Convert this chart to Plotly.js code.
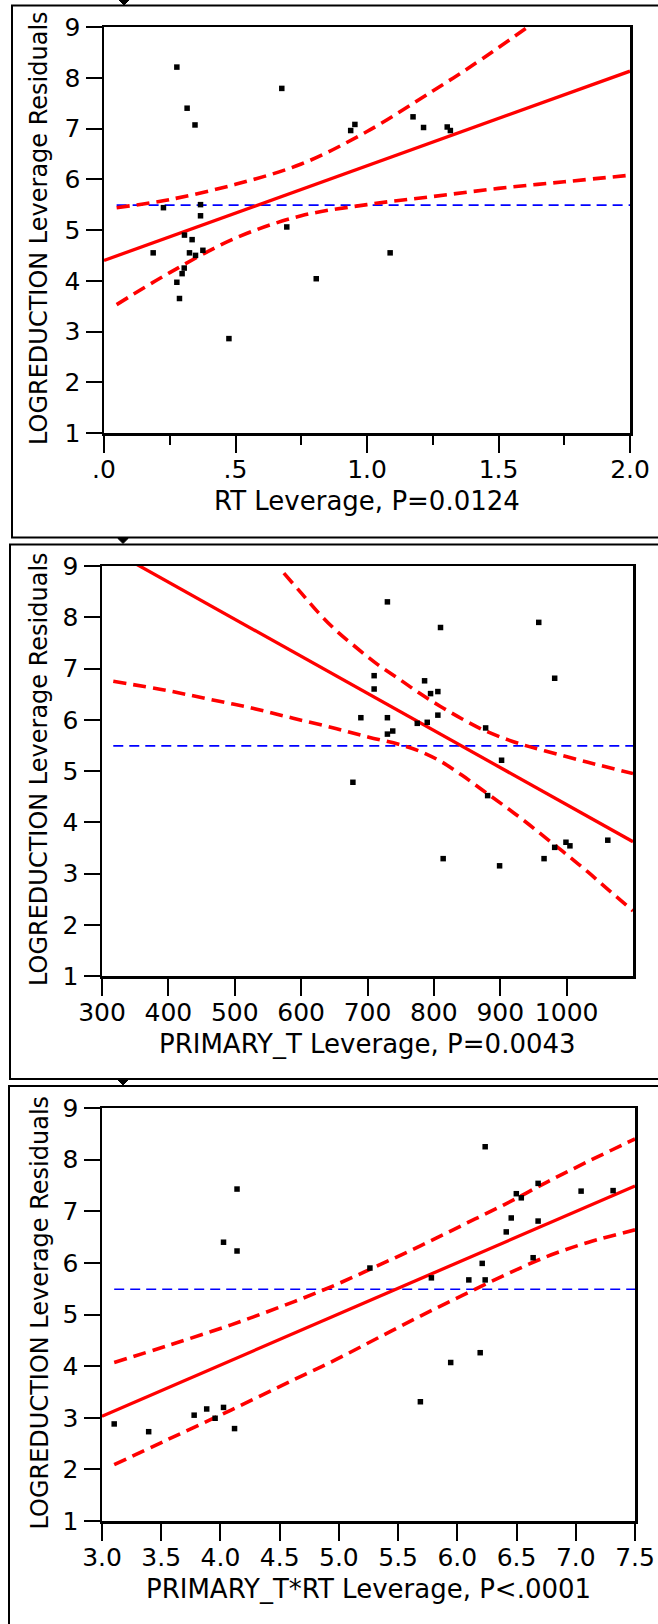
<!DOCTYPE html>
<html><head><meta charset="utf-8">
<script src="https://cdn.plot.ly/plotly-3.0.1.min.js"></script>
<style>html,body{margin:0;padding:0;background:#fff;} #chart{width:658px;height:1624px;}</style>
</head><body><div id="chart"></div>
<script>
// ---------- DATA ----------
const meanLogReduction = 5.49;

// Panel 1: RT Leverage
const rtX = [0.277, 0.316, 0.346, 0.676, 0.938, 0.954, 1.175, 1.215, 1.305, 1.317,
             0.226, 0.367, 0.367, 0.187, 0.306, 0.335, 0.325, 0.348, 0.376, 0.695,
             0.297, 0.305, 0.277, 0.287, 0.475, 0.807, 1.088];
const rtY = [8.21, 7.40, 7.07, 7.79, 6.96, 7.08, 7.23, 7.02, 7.03, 6.96,
             5.44, 5.28, 5.50, 4.55, 4.90, 4.81, 4.55, 4.50, 4.60, 5.06,
             4.14, 4.25, 3.97, 3.65, 2.86, 4.04, 4.55];
const rtFitX = [0.0, 2.0];
const rtFitY = [4.40, 8.13];
const rtUpperX = [0.048, 0.25, 0.5, 0.75, 1.0, 1.25, 1.4, 1.62];
const rtUpperY = [5.44, 5.60, 5.90, 6.30, 6.94, 7.74, 8.24, 9.03];
const rtLowerX = [0.048, 0.25, 0.5, 0.75, 1.0, 1.25, 1.5, 1.75, 2.0];
const rtLowerY = [3.53, 4.16, 4.84, 5.28, 5.50, 5.66, 5.82, 5.95, 6.08];
const rtMeanX = [0.048, 2.0];
const rtTickVals = [0, 0.5, 1.0, 1.5, 2.0];
const rtTickText = ['.0', '.5', '1.0', '1.5', '2.0'];
const rtMinorVals = [0.25, 0.75, 1.25, 1.75];

// Panel 2: PRIMARY_T Leverage
const ptX = [730, 810, 958, 982, 710, 710, 690, 730, 730, 738, 786, 795, 806, 806,
             775, 790, 878, 902, 881, 678, 814, 899, 966, 982, 999, 1005, 1062];
const ptY = [8.30, 7.80, 7.90, 6.81, 6.86, 6.60, 6.04, 6.04, 5.72, 5.78, 6.76, 6.51, 6.55, 6.09,
             5.93, 5.95, 5.84, 5.21, 4.52, 4.78, 3.29, 3.15, 3.29, 3.51, 3.61, 3.54, 3.65];
const ptFitX = [300, 1100];
const ptFitY = [9.41, 3.62];
const ptUpperX = [574, 601, 626, 652, 683, 715, 747, 778, 810, 842, 873, 905, 937, 968, 1032, 1100];
const ptUpperY = [8.86, 8.46, 8.09, 7.75, 7.41, 7.08, 6.80, 6.52, 6.26, 6.02, 5.81, 5.64, 5.50, 5.39, 5.17, 4.95];
const ptLowerX = [317, 398, 462, 525, 588, 652, 702, 747, 778, 810, 842, 873, 905, 937, 968, 1000, 1032, 1063, 1100];
const ptLowerY = [6.75, 6.57, 6.40, 6.23, 6.03, 5.83, 5.66, 5.52, 5.39, 5.19, 4.92, 4.63, 4.33, 4.02, 3.70, 3.37, 3.03, 2.68, 2.27];
const ptMeanX = [317, 1100];
const ptTickVals = [300, 400, 500, 600, 700, 800, 900, 1000];

// Panel 3: PRIMARY_T*RT Leverage
const ptrtX = [3.103, 3.394, 3.778, 3.884, 3.955, 4.026, 4.119, 4.026, 4.140, 4.140,
               5.262, 5.688, 5.781, 5.944, 6.097, 6.193, 6.210, 6.235, 6.235, 6.413,
               6.455, 6.498, 6.540, 6.640, 6.682, 6.682, 7.045, 7.315];
const ptrtY = [2.88, 2.73, 3.05, 3.17, 2.99, 3.20, 2.79, 6.40, 6.23, 7.43,
               5.90, 3.31, 5.71, 4.07, 5.67, 4.26, 5.99, 5.67, 8.25, 6.60,
               6.87, 7.34, 7.26, 6.10, 7.54, 6.81, 7.39, 7.40];
const ptrtFitX = [3.0, 7.5];
const ptrtFitY = [3.03, 7.49];
const ptrtUpperX = [3.103, 3.558, 4.09, 4.623, 4.978, 5.333, 5.688, 6.043, 6.398, 6.753, 7.109, 7.5];
const ptrtUpperY = [4.07, 4.40, 4.80, 5.25, 5.58, 5.95, 6.33, 6.73, 7.13, 7.56, 7.97, 8.40];
const ptrtLowerX = [3.103, 3.558, 4.09, 4.623, 4.978, 5.333, 5.688, 6.043, 6.398, 6.753, 7.109, 7.5];
const ptrtLowerY = [2.09, 2.58, 3.15, 3.74, 4.13, 4.55, 4.97, 5.37, 5.76, 6.12, 6.40, 6.64];
const ptrtMeanX = [3.103, 7.5];
const ptrtTickVals = [3.0, 3.5, 4.0, 4.5, 5.0, 5.5, 6.0, 6.5, 7.0, 7.5];

const yTickVals = [1, 2, 3, 4, 5, 6, 7, 8, 9];
const yTitle = 'LOGREDUCTION Leverage Residuals';
const xTitles = ['RT Leverage, P=0.0124', 'PRIMARY_T Leverage, P=0.0043', 'PRIMARY_T*RT Leverage, P<.0001'];

// ---------- LAYOUT HELPERS ----------
const W = 658, H = 1624;
const px = x => x / W;
const py = y => 1 - y / H;
const FONT = 'DejaVu Sans';
const RED = '#ff0000', BLUE = '#0000ff';

// pixel boxes of the three plot areas: [left, right, top, bottom]
const boxes = [[104, 630, 27, 433], [102, 633, 566, 976], [102, 635, 1108, 1521]];

function panelTraces(n, xs, ys, fx, fy, ux, uy, lx, ly, mx) {
  const xa = n === 1 ? 'x' : 'x' + n, ya = n === 1 ? 'y' : 'y' + n;
  return [
    {x: mx, y: mx.map(() => meanLogReduction), xaxis: xa, yaxis: ya, mode: 'lines',
     line: {color: BLUE, width: 1.6, dash: '10px,6px'}, hoverinfo: 'skip'},
    {x: ux, y: uy, xaxis: xa, yaxis: ya, mode: 'lines',
     line: {color: RED, width: 3.6, dash: '13px,7px', shape: 'spline', smoothing: 1}, hoverinfo: 'skip'},
    {x: lx, y: ly, xaxis: xa, yaxis: ya, mode: 'lines',
     line: {color: RED, width: 3.6, dash: '13px,7px', shape: 'spline', smoothing: 1}, hoverinfo: 'skip'},
    {x: fx, y: fy, xaxis: xa, yaxis: ya, mode: 'lines',
     line: {color: RED, width: 3.3}, hoverinfo: 'skip'},
    {x: xs, y: ys, xaxis: xa, yaxis: ya, mode: 'markers',
     marker: {symbol: 'square', size: 5.5, color: '#000'}, cliponaxis: false}
  ];
}

const data = [].concat(
  panelTraces(1, rtX, rtY, rtFitX, rtFitY, rtUpperX, rtUpperY, rtLowerX, rtLowerY, rtMeanX),
  panelTraces(2, ptX, ptY, ptFitX, ptFitY, ptUpperX, ptUpperY, ptLowerX, ptLowerY, ptMeanX),
  panelTraces(3, ptrtX, ptrtY, ptrtFitX, ptrtFitY, ptrtUpperX, ptrtUpperY, ptrtLowerX, ptrtLowerY, ptrtMeanX)
);

const axisCommon = {
  showline: true, linecolor: '#000', linewidth: 2.5, mirror: true,
  ticks: 'outside', tickwidth: 2, tickcolor: '#000',
  showgrid: false, zeroline: false, fixedrange: true,
  tickfont: {family: FONT, size: 25, color: '#000'}
};

function yAxis(b, anchor) {
  return Object.assign({}, axisCommon, {
    domain: [py(b[3]), py(b[2])], range: [1, 9], anchor: anchor,
    tickmode: 'array', tickvals: yTickVals, ticklen: 16
  });
}

const layout = {
  width: W, height: H, margin: {l: 0, r: 0, t: 0, b: 0},
  paper_bgcolor: '#fff', plot_bgcolor: '#fff', showlegend: false,
  font: {family: FONT, color: '#000'},
  xaxis: Object.assign({}, axisCommon, {
    domain: [px(boxes[0][0]), px(boxes[0][1])], range: [0, 2], anchor: 'y',
    tickmode: 'array', tickvals: rtTickVals, ticktext: rtTickText, ticklen: 17, ticklabelstandoff: -5,
    minor: {tickmode: 'array', tickvals: rtMinorVals, ticks: 'outside', ticklen: 9, tickwidth: 2, tickcolor: '#000', showgrid: false}
  }),
  yaxis: yAxis(boxes[0], 'x'),
  xaxis2: Object.assign({}, axisCommon, {
    domain: [px(boxes[1][0]), px(boxes[1][1])], range: [300, 1100], anchor: 'y2',
    tickmode: 'array', tickvals: ptTickVals, ticklen: 17, ticklabelstandoff: -5
  }),
  yaxis2: yAxis(boxes[1], 'x2'),
  xaxis3: Object.assign({}, axisCommon, {
    domain: [px(boxes[2][0]), px(boxes[2][1])], range: [3.0, 7.5], anchor: 'y3',
    tickmode: 'array', tickvals: ptrtTickVals, ticktext: ptrtTickVals.map(v => v.toFixed(1)),
    ticklen: 17, ticklabelstandoff: -5
  }),
  yaxis3: yAxis(boxes[2], 'x3'),
  annotations: [],
  shapes: []
};

// axis titles as annotations
boxes.forEach((b, i) => {
  layout.annotations.push({
    xref: 'paper', yref: 'paper', x: px((b[0] + b[1]) / 2), y: py(b[3] + 68),
    xanchor: 'center', yanchor: 'middle', showarrow: false, text: xTitles[i],
    font: {family: FONT, size: 26, color: '#000'}
  });
  layout.annotations.push({
    xref: 'paper', yref: 'paper', x: px(39), y: py((b[2] + b[3]) / 2 - 2),
    xanchor: 'center', yanchor: 'middle', showarrow: false, text: yTitle, textangle: -90,
    font: {family: FONT, size: 24, color: '#000'}
  });
});

// outer report frames (left, top, bottom; they run past the right edge)
const frames = [[12, 5.5, 537.5], [10, 544.5, 1079], [9, 1086, 1660]];
frames.forEach(f => {
  layout.shapes.push({type: 'rect', xref: 'paper', yref: 'paper',
    x0: px(f[0]), x1: px(700), y0: py(f[2]), y1: py(f[1]),
    line: {color: '#000', width: 2}, fillcolor: 'rgba(0,0,0,0)'});
});
// small disclosure triangles above each frame
[[124, 0, 5], [123, 538.5, 543.5], [123, 1080, 1085]].forEach(t => {
  layout.shapes.push({type: 'path', xref: 'paper', yref: 'paper',
    path: `M ${px(t[0] - 5)},${py(t[1])} L ${px(t[0] + 5)},${py(t[1])} L ${px(t[0])},${py(t[2])} Z`,
    fillcolor: '#000', line: {color: '#000', width: 1}});
});

Plotly.newPlot('chart', data, layout, {staticPlot: true, displayModeBar: false});
</script>
</body></html>
